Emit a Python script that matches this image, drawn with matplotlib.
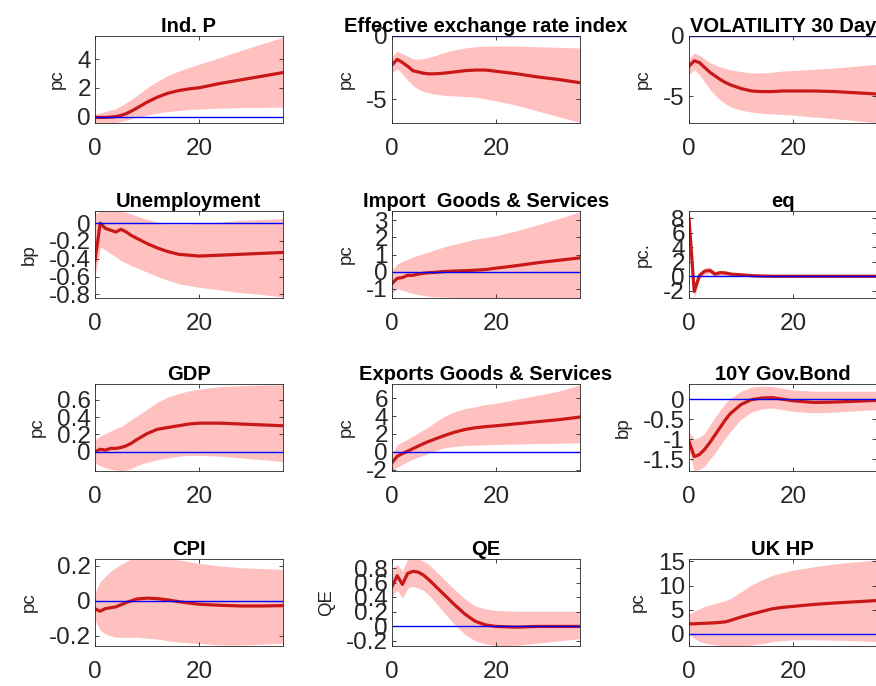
import matplotlib
matplotlib.use("Agg")
import matplotlib.pyplot as plt
from matplotlib.ticker import FuncFormatter

plt.rcParams['font.family'] = ['Liberation Sans', 'DejaVu Sans']
plt.rcParams['axes.unicode_minus'] = False

# horizons (months) at which the responses are listed
horizon = [0, 1, 2, 3, 4, 5, 6, 7, 8, 10, 12, 14, 16, 18, 20, 24, 28, 32, 36]

indp_med = [-0.05, -0.06, -0.06, -0.04, 0.0, 0.08, 0.2, 0.38, 0.58, 1.0, 1.35, 1.62, 1.8, 1.92, 2.0, 2.3, 2.55, 2.8, 3.05]
indp_hi = [0.15, 0.25, 0.35, 0.45, 0.55, 0.75, 0.95, 1.2, 1.45, 2.0, 2.45, 2.85, 3.15, 3.4, 3.65, 4.1, 4.6, 5.05, 5.5]
indp_lo = [-0.4, -0.43, -0.45, -0.45, -0.42, -0.35, -0.25, -0.15, -0.05, 0.1, 0.25, 0.35, 0.42, 0.48, 0.52, 0.58, 0.62, 0.64, 0.65]

eer_med = [-2.3, -1.85, -2.1, -2.4, -2.75, -2.85, -2.95, -3.0, -3.0, -2.95, -2.85, -2.75, -2.7, -2.7, -2.8, -3.0, -3.25, -3.45, -3.7]
eer_hi = [-1.6, -1.2, -1.4, -1.6, -1.8, -1.85, -1.8, -1.7, -1.6, -1.3, -1.1, -0.95, -0.85, -0.8, -0.8, -0.8, -0.85, -0.9, -0.95]
eer_lo = [-2.9, -2.6, -3.0, -3.5, -3.9, -4.2, -4.4, -4.5, -4.6, -4.7, -4.75, -4.8, -4.85, -5.0, -5.15, -5.5, -5.95, -6.4, -6.85]

vol_med = [-2.5, -2.05, -2.2, -2.6, -3.0, -3.3, -3.6, -3.85, -4.05, -4.35, -4.55, -4.6, -4.6, -4.55, -4.55, -4.55, -4.6, -4.7, -4.8]
vol_hi = [-1.9, -1.4, -1.6, -1.9, -2.2, -2.4, -2.55, -2.7, -2.8, -2.95, -3.05, -3.05, -3.0, -2.9, -2.85, -2.75, -2.65, -2.5, -2.35]
vol_lo = [-3.2, -2.8, -3.2, -3.8, -4.4, -4.9, -5.3, -5.6, -5.85, -6.15, -6.3, -6.4, -6.45, -6.5, -6.55, -6.7, -6.85, -7.0, -7.2]

unemp_med = [-0.42, 0.0, -0.06, -0.08, -0.1, -0.07, -0.1, -0.14, -0.17, -0.23, -0.28, -0.32, -0.35, -0.36, -0.37, -0.36, -0.35, -0.34, -0.33]
unemp_hi = [0.1, 0.13, 0.13, 0.13, 0.13, 0.13, 0.12, 0.1, 0.08, 0.04, 0.01, -0.01, -0.01, -0.01, 0.0, 0.01, 0.03, 0.04, 0.05]
unemp_lo = [-0.6, -0.27, -0.3, -0.34, -0.38, -0.42, -0.45, -0.48, -0.5, -0.55, -0.6, -0.64, -0.68, -0.7, -0.72, -0.75, -0.78, -0.8, -0.83]

imp_med = [-0.7, -0.4, -0.35, -0.22, -0.22, -0.15, -0.1, -0.07, -0.05, 0.0, 0.03, 0.05, 0.08, 0.12, 0.2, 0.35, 0.52, 0.66, 0.8]
imp_hi = [0.1, 0.45, 0.6, 0.72, 0.85, 0.95, 1.05, 1.15, 1.25, 1.45, 1.6, 1.75, 1.9, 2.0, 2.1, 2.4, 2.75, 3.1, 3.5]
imp_lo = [-1.3, -1.0, -1.1, -1.2, -1.28, -1.35, -1.4, -1.45, -1.48, -1.5, -1.52, -1.54, -1.55, -1.55, -1.55, -1.55, -1.55, -1.55, -1.55]

eq_med = [8.0, -2.1, 0.1, 0.7, 0.8, 0.3, 0.5, 0.45, 0.3, 0.2, 0.08, 0.03, 0.0, 0.0, 0.0, 0.0, 0.0, 0.0, 0.0]
eq_hi = [8.2, -1.3, 0.5, 1.2, 1.25, 0.7, 0.8, 0.75, 0.55, 0.4, 0.25, 0.15, 0.12, 0.1, 0.1, 0.1, 0.1, 0.1, 0.1]
eq_lo = [7.8, -3.0, -0.3, 0.2, 0.35, -0.1, 0.15, 0.1, 0.05, 0.0, -0.08, -0.1, -0.12, -0.12, -0.12, -0.12, -0.12, -0.12, -0.12]

gdp_med = [0.0, 0.03, 0.02, 0.04, 0.04, 0.05, 0.07, 0.1, 0.14, 0.21, 0.26, 0.28, 0.3, 0.32, 0.33, 0.33, 0.32, 0.31, 0.3]
gdp_hi = [0.14, 0.18, 0.21, 0.24, 0.27, 0.29, 0.33, 0.37, 0.41, 0.49, 0.57, 0.63, 0.67, 0.7, 0.72, 0.75, 0.76, 0.77, 0.77]
gdp_lo = [-0.13, -0.16, -0.18, -0.2, -0.21, -0.22, -0.21, -0.19, -0.16, -0.12, -0.09, -0.07, -0.05, -0.04, -0.04, -0.05, -0.07, -0.09, -0.11]

exp_med = [-1.22, -0.5, -0.2, 0.07, 0.35, 0.63, 0.9, 1.15, 1.37, 1.81, 2.2, 2.5, 2.7, 2.82, 2.92, 3.15, 3.38, 3.6, 3.89]
exp_hi = [-0.3, 0.8, 1.1, 1.4, 1.75, 2.1, 2.45, 2.8, 3.2, 3.95, 4.5, 4.85, 5.05, 5.3, 5.45, 5.9, 6.35, 6.8, 7.5]
exp_lo = [-2.15, -1.7, -1.4, -1.1, -0.85, -0.6, -0.4, -0.15, 0.07, 0.44, 0.6, 0.7, 0.75, 0.8, 0.82, 0.88, 0.92, 0.96, 1.0]

bond_med = [-1.05, -1.43, -1.38, -1.25, -1.08, -0.89, -0.7, -0.51, -0.35, -0.13, -0.01, 0.03, 0.04, 0.0, -0.04, -0.08, -0.07, -0.05, -0.03]
bond_hi = [-0.8, -1.0, -0.95, -0.85, -0.65, -0.45, -0.27, -0.1, 0.03, 0.2, 0.3, 0.33, 0.32, 0.27, 0.23, 0.2, 0.2, 0.2, 0.2]
bond_lo = [-1.3, -1.79, -1.75, -1.67, -1.5, -1.34, -1.15, -0.96, -0.8, -0.5, -0.32, -0.24, -0.22, -0.26, -0.3, -0.34, -0.32, -0.29, -0.26]

cpi_med = [-0.047, -0.06, -0.045, -0.04, -0.035, -0.023, -0.01, 0.0, 0.01, 0.015, 0.012, 0.005, -0.005, -0.013, -0.02, -0.026, -0.03, -0.03, -0.028]
cpi_hi = [0.045, 0.11, 0.14, 0.17, 0.19, 0.21, 0.225, 0.24, 0.24, 0.24, 0.24, 0.24, 0.235, 0.225, 0.215, 0.2, 0.19, 0.185, 0.18]
cpi_lo = [-0.11, -0.17, -0.19, -0.2, -0.21, -0.21, -0.21, -0.21, -0.21, -0.215, -0.22, -0.23, -0.237, -0.242, -0.245, -0.255, -0.255, -0.25, -0.245]

qe_med = [0.55, 0.7, 0.58, 0.73, 0.76, 0.75, 0.71, 0.65, 0.58, 0.44, 0.3, 0.17, 0.07, 0.02, 0.0, -0.01, 0.0, 0.0, 0.0]
qe_hi = [0.8, 0.86, 0.76, 0.93, 0.93, 0.93, 0.9, 0.86, 0.79, 0.65, 0.51, 0.38, 0.28, 0.24, 0.22, 0.21, 0.21, 0.21, 0.21]
qe_lo = [0.41, 0.5, 0.39, 0.53, 0.55, 0.53, 0.5, 0.44, 0.36, 0.19, 0.03, -0.11, -0.2, -0.24, -0.27, -0.26, -0.23, -0.2, -0.17]

hp_med = [2.07, 2.1, 2.15, 2.2, 2.25, 2.3, 2.4, 2.5, 2.8, 3.5, 4.1, 4.65, 5.2, 5.5, 5.7, 6.1, 6.4, 6.65, 6.9]
hp_hi = [4.1, 4.7, 5.2, 5.7, 6.0, 6.3, 6.6, 6.9, 7.4, 8.7, 10.1, 11.2, 12.1, 12.7, 13.2, 13.9, 14.5, 14.9, 15.3]
hp_lo = [0.0, -0.9, -1.6, -1.9, -2.1, -2.3, -2.4, -2.5, -2.5, -2.5, -2.3, -2.0, -1.6, -1.4, -1.2, -1.2, -1.3, -1.4, -1.6]

titles = ["Ind. P", "Effective exchange rate index", "VOLATILITY 30 Day",
          "Unemployment", "Import  Goods & Services", "eq",
          "GDP", "Exports Goods & Services", "10Y Gov.Bond",
          "CPI", "QE", "UK HP"]
units = ["pc", "pc", "pc", "bp", "pc", "pc.", "pc", "pc", "bp", "pc", "QE", "pc"]
yticks = [[0, 2, 4], [-5, 0], [-5, 0],
          [-0.8, -0.6, -0.4, -0.2, 0], [-1, 0, 1, 2, 3], [-2, 0, 2, 4, 6, 8],
          [0, 0.2, 0.4, 0.6], [-2, 0, 2, 4, 6], [-1.5, -1, -0.5, 0],
          [-0.2, 0, 0.2], [-0.2, 0, 0.2, 0.4, 0.6, 0.8], [0, 5, 10, 15]]
ylims = [(-0.45, 5.6), (-6.9, 0), (-7.2, 0),
         (-0.84, 0.135), (-1.55, 3.55), (-3.0, 9.0),
         (-0.22, 0.78), (-2.15, 7.6), (-1.79, 0.38),
         (-0.26, 0.24), (-0.27, 0.93), (-2.5, 15.5)]

series = [(indp_med, indp_hi, indp_lo), (eer_med, eer_hi, eer_lo), (vol_med, vol_hi, vol_lo),
          (unemp_med, unemp_hi, unemp_lo), (imp_med, imp_hi, imp_lo), (eq_med, eq_hi, eq_lo),
          (gdp_med, gdp_hi, gdp_lo), (exp_med, exp_hi, exp_lo), (bond_med, bond_hi, bond_lo),
          (cpi_med, cpi_hi, cpi_lo), (qe_med, qe_hi, qe_lo), (hp_med, hp_hi, hp_lo)]

W, H = 876, 686
fig = plt.figure(figsize=(W / 100, H / 100), dpi=100)

col_left = [95, 392, 689]
row_top = [36, 211, 384, 559]
ax_w, ax_h = 187.5, 87

for i in range(12):
    r, c = divmod(i, 3)
    x0 = col_left[c] / W
    y0 = 1 - (row_top[r] + ax_h) / H
    ax = fig.add_axes([x0, y0, ax_w / W, ax_h / H])
    med, hi, lo = series[i]

    ax.fill_between(horizon, lo, hi, color='#ffc0c0', lw=0)
    ax.plot(horizon, med, color='#c81818', lw=2.3)
    ax.axhline(0, color='#0000ff', lw=1)

    ax.set_xlim(0, 36)
    ax.set_ylim(*ylims[i])
    ax.set_xticks([0, 20])
    ax.set_yticks(yticks[i])
    ax.yaxis.set_major_formatter(FuncFormatter(lambda v, p: '%g' % v))
    ax.tick_params(direction='in', top=True, right=True, length=3, width=0.6,
                   color='#262626', labelcolor='#262626', labelsize=17.5)
    ax.tick_params(axis='x', pad=11)
    ax.tick_params(axis='y', pad=3)
    for s in ax.spines.values():
        s.set_color('#262626')
        s.set_linewidth(0.6)

    ax.set_title(titles[i], fontsize=14.5, fontweight='bold', pad=3)
    ax.set_ylabel(units[i], fontsize=13.5, color='#262626', labelpad=8)

fig.savefig("out.png", dpi=100)
